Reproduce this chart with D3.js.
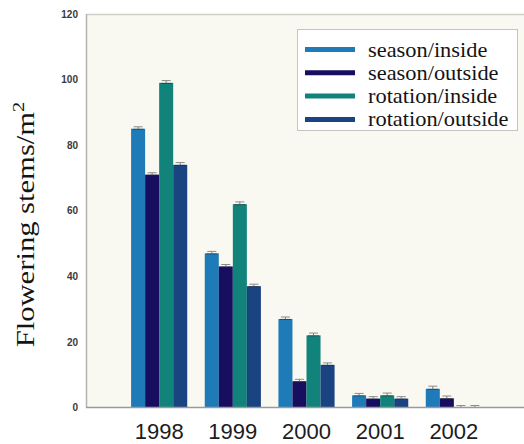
<!DOCTYPE html>
<html>
<head>
<meta charset="utf-8">
<script src="https://cdn.jsdelivr.net/npm/d3@7"></script>
<style>
  html, body { margin: 0; padding: 0; background: #ffffff; }
  svg { display: block; }
</style>
</head>
<body>
<svg id="chart" width="524" height="444"></svg>
<script>
// Flowering stems per m² by year and treatment
const years = ["1998", "1999", "2000", "2001", "2002"];
const series = ["season/inside", "season/outside", "rotation/inside", "rotation/outside"];
const seasonInside   = [85, 47, 27, 3.7, 5.7];
const seasonOutside  = [71, 43, 8, 2.7, 2.8];
const rotationInside = [99, 62, 22, 3.7, 0];
const rotationOutside = [74, 37, 13, 2.7, 0];
const seasonInsideErr   = [0.6, 0.6, 0.6, 0.6, 0.8];
const seasonOutsideErr  = [0.6, 0.6, 0.6, 0.6, 0.7];
const rotationInsideErr = [0.7, 0.7, 0.7, 0.7, 0.6];
const rotationOutsideErr = [0.7, 0.6, 0.6, 0.6, 0.6];
const yTicks = [0, 20, 40, 60, 80, 100, 120];
const colors = ["#1f7bb8", "#170e5f", "#12837a", "#1a4381"];

const values = [seasonInside, seasonOutside, rotationInside, rotationOutside];
const errors = [seasonInsideErr, seasonOutsideErr, rotationInsideErr, rotationOutsideErr];

const rows = [];
years.forEach((yr, i) => {
  series.forEach((s, j) => {
    rows.push({ year: yr, series: s, value: values[j][i], err: errors[j][i], color: colors[j] });
  });
});

const svg = d3.select("#chart");
const plotLeft = 86, plotTop = 14, plotBottom = 407.5, plotRight = 527;

const x0 = d3.scaleBand().domain(years).range([plotLeft, plotRight])
  .paddingInner(0.238).paddingOuter(0.612);
const x1 = d3.scaleBand().domain(series).range([0, x0.bandwidth()]);
const y = d3.scaleLinear().domain([0, 120]).range([plotBottom, plotTop]);
const color = d3.scaleOrdinal().domain(series).range(colors);

// plot background
svg.append("rect")
  .attr("x", plotLeft).attr("y", plotTop)
  .attr("width", 524 - plotLeft).attr("height", plotBottom - plotTop)
  .attr("fill", "#f9f9f1");

// frame lines
svg.append("line").attr("x1", plotLeft).attr("x2", 524).attr("y1", plotTop + 0.5).attr("y2", plotTop + 0.5)
  .attr("stroke", "#cfcfc8").attr("stroke-width", 1.5);
svg.append("line").attr("x1", plotLeft + 0.5).attr("x2", plotLeft + 0.5).attr("y1", plotTop).attr("y2", plotBottom)
  .attr("stroke", "#b4b4b0").attr("stroke-width", 1.5);

// bars
const bars = svg.append("g");
bars.selectAll("rect").data(rows).join("rect")
  .attr("x", d => x0(d.year) + x1(d.series))
  .attr("y", d => y(d.value))
  .attr("width", x1.bandwidth())
  .attr("height", d => y(0) - y(d.value))
  .attr("fill", d => color(d.series));

// error bars: upper whisker and cap, with a dark edge on the bar top
const eb = svg.append("g").attr("stroke-width", 1);
const cap = 4.5;
rows.forEach(d => {
  const cx = x0(d.year) + x1(d.series) + x1.bandwidth() / 2;
  const yHi = y(d.value + d.err), yVal = y(d.value);
  eb.append("line").attr("x1", cx).attr("x2", cx).attr("y1", yHi).attr("y2", yVal)
    .attr("stroke", "#7a7a7a");
  eb.append("line").attr("x1", cx - cap).attr("x2", cx + cap).attr("y1", yHi).attr("y2", yHi)
    .attr("stroke", "#8a8a8a");
  if (d.value > 0) {
    eb.append("line").attr("x1", cx - cap - 1).attr("x2", cx + cap + 1).attr("y1", yVal + 0.5).attr("y2", yVal + 0.5)
      .attr("stroke", "#2a2a2a").attr("stroke-opacity", 0.6);
  }
});

// bottom axis line
svg.append("line").attr("x1", plotLeft).attr("x2", 524).attr("y1", plotBottom).attr("y2", plotBottom)
  .attr("stroke", "#9a9a9a").attr("stroke-width", 1.5);

// y axis
const yAxis = svg.append("g")
  .attr("transform", `translate(${plotLeft},0)`)
  .call(d3.axisLeft(y).tickValues(yTicks).tickSize(0).tickPadding(8));
yAxis.select(".domain").remove();
yAxis.selectAll("text")
  .attr("font-family", "Liberation Sans, Arial, sans-serif")
  .attr("font-size", 10).attr("font-weight", "bold").attr("fill", "#3a3a3a");

// x axis
const xAxis = svg.append("g")
  .attr("transform", `translate(0,${plotBottom})`)
  .call(d3.axisBottom(x0).tickSize(0).tickPadding(16));
xAxis.select(".domain").remove();
xAxis.selectAll("text")
  .attr("font-family", "Liberation Sans, Arial, sans-serif")
  .attr("font-size", 22).attr("fill", "#1c1c1c");

// y axis title
const yTitle = svg.append("text")
  .attr("transform", "translate(34,224.5) rotate(-90) scale(1.2,1)")
  .attr("text-anchor", "middle")
  .attr("font-family", "Liberation Serif, Times New Roman, serif")
  .attr("font-size", 25.5).attr("fill", "#141414");
yTitle.append("tspan").text("Flowering stems/m");
yTitle.append("tspan").attr("font-size", 17).attr("dy", -10).text("2");

// legend
const lg = svg.append("g").attr("transform", "translate(297,29)");
lg.append("rect").attr("x", 0.5).attr("y", 0.5).attr("width", 220).attr("height", 101)
  .attr("fill", "#ffffff").attr("stroke", "#c4c4c4").attr("stroke-width", 1);
const item = lg.selectAll("g.item").data(series).join("g")
  .attr("class", "item")
  .attr("transform", (d, i) => `translate(0,${20.5 + i * 23.3})`);
item.append("line").attr("x1", 8).attr("x2", 58).attr("y1", 0).attr("y2", 0)
  .attr("stroke", d => color(d)).attr("stroke-width", 5);
item.append("text")
  .attr("transform", "translate(71,7) scale(1.12,1)")
  .attr("font-family", "Liberation Serif, Times New Roman, serif")
  .attr("font-size", 20).attr("fill", "#141414")
  .text(d => d);
</script>
</body>
</html>
